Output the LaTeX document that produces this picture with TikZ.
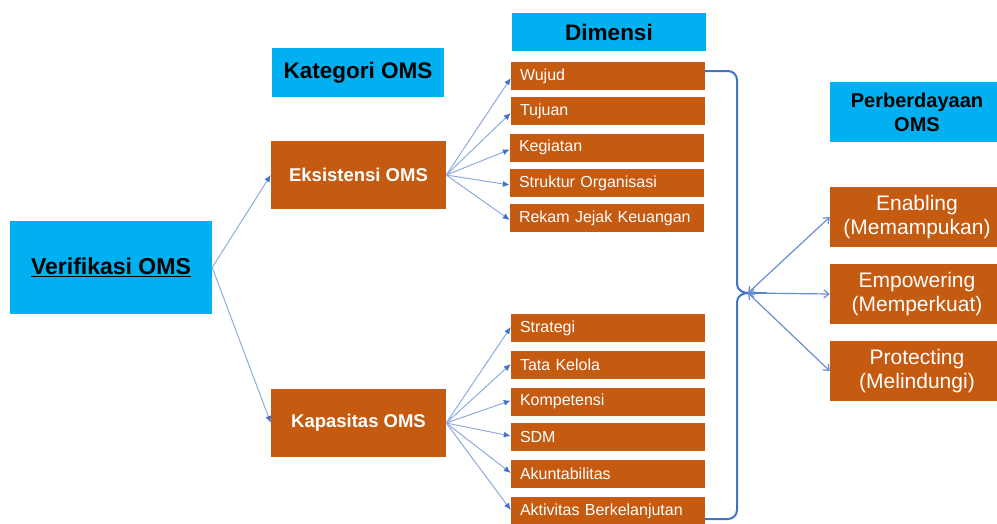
\documentclass[tikz,border=0pt]{standalone}
\usepackage{fontspec}
\setmainfont{Liberation Sans}
\usetikzlibrary{arrows.meta}
\definecolor{oorange}{HTML}{C55A11}
\definecolor{obluebox}{HTML}{00B0F0}
\definecolor{oline}{HTML}{8FAADC}
\definecolor{ohead}{HTML}{4472C4}
\definecolor{obrace}{HTML}{4472C4}
\tikzset{
  bluebox/.style={rectangle, fill=obluebox, draw=none, inner sep=0pt, align=center, font=\bfseries\fontsize{22.5}{26}\selectfont, text=black},
  catbox/.style={rectangle, fill=oorange, draw=none, inner sep=0pt, align=center, minimum width=175pt, minimum height=68pt, font=\bfseries\fontsize{18.5}{22}\selectfont, text=white},
  dimbox/.style={rectangle, fill=oorange, draw=none, inner xsep=9pt, inner ysep=0pt, minimum height=28pt, text width=176pt, align=left, font=\fontsize{16}{19}\selectfont, text=white},
  empbox/.style={rectangle, fill=oorange, draw=none, inner sep=0pt, align=center, minimum width=174pt, minimum height=60pt, font=\fontsize{21}{24}\selectfont, text=white},
  fanarrow/.style={draw=oline, line width=1pt, -{Latex[length=7pt,width=6pt,color=ohead]}},
  outarrow/.style={draw=ohead!80, line width=1.2pt, {Straight Barb[length=5pt,width=8pt]}-{Straight Barb[length=5pt,width=8pt]}},
  bracestyle/.style={draw=obrace, line width=2pt, line join=round}
}
\begin{document}
\begin{tikzpicture}[x=1pt,y=-1pt]
\useasboundingbox (0,0) rectangle (997,523);
% left
\node[bluebox, minimum width=202pt, minimum height=93pt, font=\bfseries\fontsize{23}{27}\selectfont] (ver) at (111,267.5) {\underline{Verifikasi OMS}};
\node[bluebox, minimum width=172pt, minimum height=49pt] (kat) at (358,72.5) {Kategori OMS};
\node[catbox] (eks) at (358.5,175) {Eksistensi OMS};
\node[catbox] (kap) at (358.5,423) {Kapasitas OMS};
% dimensions
\node[bluebox, minimum width=194pt, minimum height=38pt] (dim) at (609,32) {Dimensi};
\node[dimbox] (d1) at (608,76) {Wujud};
\node[dimbox] (d2) at (608,111) {Tujuan};
\node[dimbox] (d3) at (607,147.5) {Kegiatan};
\node[dimbox] (d4) at (607,183) {Struktur Organisasi};
\node[dimbox] (d5) at (607,218) {Rekam Jejak Keuangan};
\node[dimbox] (k1) at (608,328) {Strategi};
\node[dimbox] (k2) at (608,365) {Tata Kelola};
\node[dimbox] (k3) at (608,401.5) {Kompetensi};
\node[dimbox] (k4) at (608,437) {SDM};
\node[dimbox] (k5) at (608,474) {Akuntabilitas};
\node[dimbox] (k6) at (608,511) {Aktivitas Berkelanjutan};
% right
\node[bluebox, minimum width=174pt, minimum height=60pt, font=\bfseries\fontsize{20}{24}\selectfont] (per) at (917,112) {Perberdayaan\\OMS};
\node[empbox] (e1) at (917,217) {Enabling\\(Memampukan)};
\node[empbox] (e2) at (917,294) {Empowering\\(Memperkuat)};
\node[empbox] (e3) at (917,371) {Protecting\\(Melindungi)};
% fan arrows
\draw[fanarrow] (ver.east) -- (eks.west);
\draw[fanarrow] (ver.east) -- (kap.west);
\foreach \t in {d1,d2,d3,d4,d5} \draw[fanarrow] (eks.east) -- ([yshift=-2pt]\t.west);
\foreach \t in {k1,k2,k3,k4,k5,k6} \draw[fanarrow] (kap.east) -- ([yshift=1pt]\t.west);
% brace
\coordinate (tip) at (748,293);
\draw[bracestyle] ([yshift=5pt]d1.east) -- (728,71) to[out=0,in=90] (737,80) -- (737,284) to[out=-90,in=180] (tip);
\draw[bracestyle] ([yshift=-8pt]k6.east) -- (728,519) to[out=0,in=-90] (737,510) -- (737,302) to[out=90,in=180] (tip);
\draw[draw=obrace, line width=1.8pt] (tip) -- ++(19,0);
% out arrows
\draw[outarrow] (tip) -- (e1.west);
\draw[outarrow] (tip) -- (e2.west);
\draw[outarrow] (tip) -- (e3.west);
\end{tikzpicture}
\end{document}
